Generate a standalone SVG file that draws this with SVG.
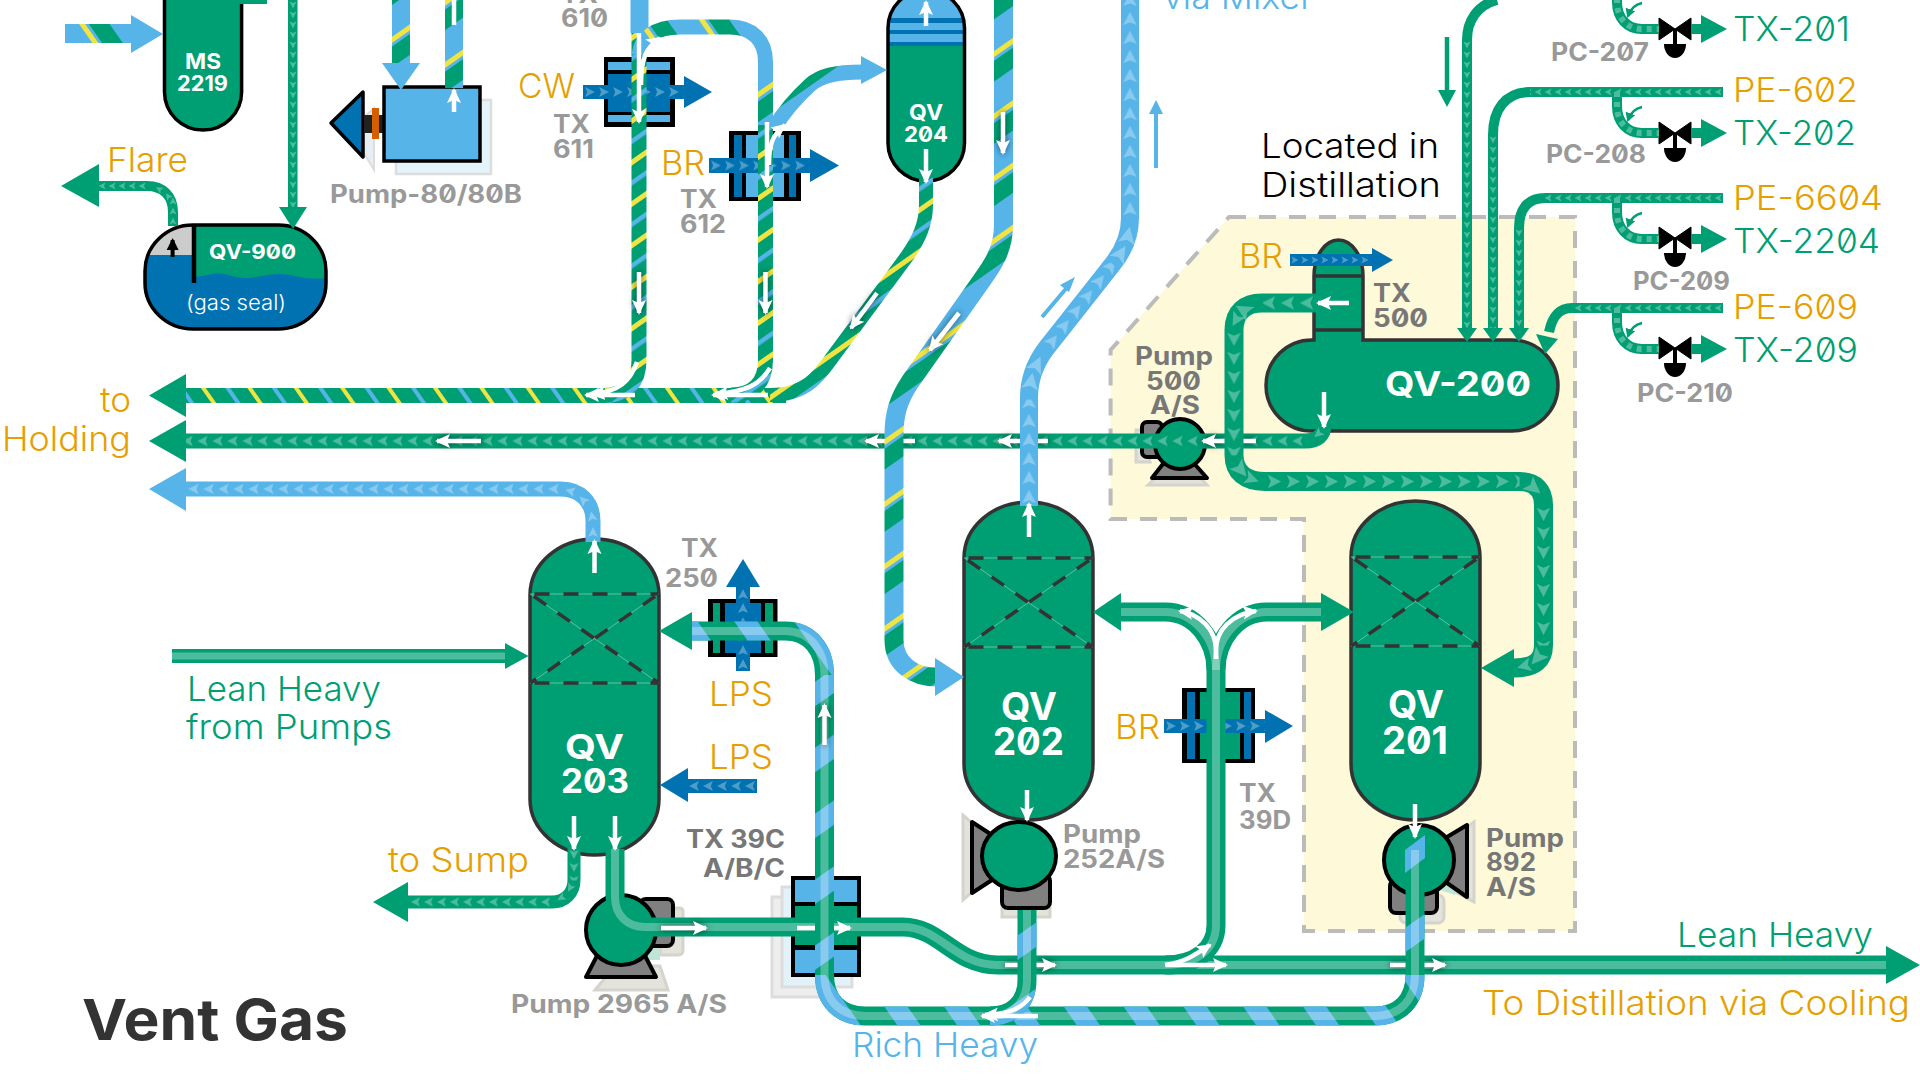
<svg xmlns="http://www.w3.org/2000/svg" width="1920" height="1080" viewBox="0 0 1920 1080">
<style>
text{font-family:Inter,"Liberation Sans",sans-serif;font-feature-settings:"zero";}
.o,.t,.s,.k{font-size:34px;font-weight:300}
.o{fill:#E69F00}.t{fill:#009E73}.s{fill:#56B4E9}.k{fill:#000}
.y{font-size:25px;font-weight:700;fill:#999}
.yd{font-size:25px;font-weight:700;fill:#777}
.w{font-weight:700;fill:#fff}
.fg{fill:#009E73}.fs{fill:#56B4E9}.fb{fill:#0072B2}
.p{fill:none}
.g{stroke:#009E73}.b{stroke:#56B4E9}.d{stroke:#0072B2}
.l{fill:none;stroke:#fff;stroke-opacity:.3}
.v{stroke:#333;stroke-width:3.5;fill:#009E73}
.wa{fill:none;stroke:#fff;stroke-width:4.5;marker-end:url(#wh)}
.sh{filter:drop-shadow(0 0 3px rgba(0,0,0,.55))}
.pd{stroke:#000;stroke-width:4;stroke-linejoin:round;fill:#808080}
.ps{fill:#e3e3dc;stroke:#d4d4cc;stroke-width:3}
.c{fill:url(#chev)}
</style>
<defs>
<pattern id="chev" patternUnits="userSpaceOnUse" width="20" height="20"><path d="M3 3 L17 10 L3 17 L6 10Z" fill="#fff" fill-opacity=".3"/></pattern>
<pattern id="gV" patternUnits="userSpaceOnUse" width="34" height="34" patternTransform="rotate(55)"><rect width="34" height="34" fill="#009E73"/><rect x="0" width="4.500" height="34" fill="#56B4E9"/><rect x="17" width="5" height="34" fill="#F0E442"/></pattern>
<pattern id="gH" patternUnits="userSpaceOnUse" width="38" height="38" patternTransform="rotate(-35)"><rect width="38" height="38" fill="#009E73"/><rect x="0" width="4" height="38" fill="#56B4E9"/><rect x="18" width="4" height="38" fill="#F0E442"/></pattern>
<pattern id="sV" patternUnits="userSpaceOnUse" width="51" height="51" patternTransform="rotate(55)"><rect width="51" height="51" fill="#56B4E9"/><rect x="0" width="5" height="51" fill="#F0E442"/><rect x="8" width="17" height="51" fill="#009E73"/></pattern>
<pattern id="sH" patternUnits="userSpaceOnUse" width="51" height="51" patternTransform="rotate(-35)"><rect width="51" height="51" fill="#56B4E9"/><rect x="0" width="5" height="51" fill="#F0E442"/><rect x="8" width="17" height="51" fill="#009E73"/></pattern>
<pattern id="rV" patternUnits="userSpaceOnUse" width="54" height="54" patternTransform="rotate(55)"><rect width="20" height="54" fill="#56B4E9"/></pattern>
<pattern id="rH" patternUnits="userSpaceOnUse" width="49" height="49" patternTransform="rotate(-35)"><rect width="19" height="49" fill="#56B4E9"/></pattern>
<marker id="wh" markerUnits="userSpaceOnUse" markerWidth="18" markerHeight="18" refX="13" refY="9" orient="auto"><path d="M0 2 L15 9 L0 16 L3 9Z" fill="#fff"/></marker>
<marker id="kh" markerUnits="userSpaceOnUse" markerWidth="16" markerHeight="16" refX="10" refY="8" orient="auto"><path d="M0 2 L12 8 L0 14Z" fill="#000"/></marker>
<marker id="gh" markerUnits="userSpaceOnUse" markerWidth="12" markerHeight="12" refX="7" refY="6" orient="auto"><path d="M0 1 L9 6 L0 11Z" fill="#009E73"/></marker>
<path id="tri" d="M7 0 L-7 -7 L-4 0 L-7 7Z" fill="#fff" fill-opacity=".3"/>
<g id="pack">
<path d="M-64 0H64M-64 89H64M-64 0L64 89M64 0L-64 89" stroke="#5cc3a5" stroke-width="1" fill="none"/>
<path d="M-64 0H64M-64 89H64M-64 0L64 89M64 0L-64 89" stroke="#333" stroke-width="3.500" stroke-dasharray="15 14" stroke-dashoffset="-4" fill="none"/>
</g>
<g id="valve">
<path d="M-16 -11 L16 11 V-11 L-16 11Z" fill="#000" stroke="#000" stroke-width="1" stroke-linejoin="round"/>
<path d="M0 0V16" stroke="#000" stroke-width="4"/>
<path d="M-11 15H11A11 14 0 0 1 -11 15Z" fill="#000"/>
</g>
<g id="pcbr">
<path class="p g" stroke-width="10" d="M1617 0V14C1617 30 1627 41 1642 41H1659"/>
<path class="l" stroke-width="6" stroke-dasharray="5 5" d="M1617 0V14C1617 30 1627 41 1642 41H1659"/>
<path class="p g" stroke-width="10" d="M1691 41H1703"/>
<polygon class="fg" points="1701,27 1701,55 1727,41"/>
<path fill="none" stroke="#009E73" stroke-width="2.500" marker-end="url(#gh)" d="M1642 15Q1632 17 1628 28"/>
</g>
</defs>

<rect width="1920" height="1080" fill="#fff"/>

<g id="region-distillation">
<path d="M1229 217H1575V931H1304V519H1110.600V350Z" fill="#FDF9D9" stroke="#bbb" stroke-width="4" stroke-dasharray="17 13"/>
</g>

<g id="ms2219">
<path d="M164.500 -10V92A38.500 38 0 0 0 241.600 92V-10Z" fill="#009E73" stroke="#000" stroke-width="3.500"/>
<text class="w" font-size="21" x="185" y="69" textLength="36" lengthAdjust="spacingAndGlyphs">MS</text>
<text class="w" font-size="21" x="177" y="91" textLength="51" lengthAdjust="spacingAndGlyphs">2219</text>
</g>

<g id="qv900">
<clipPath id="c900"><rect x="145" y="225" width="181" height="104" rx="48" ry="46"/></clipPath>
<g clip-path="url(#c900)">
<rect x="145" y="225" width="181" height="104" fill="#0072B2"/>
<rect x="145" y="225" width="49" height="30" fill="#ccc"/>
<path d="M194 225H326V278Q310 280 295 276T262 276T232 276T212 274T194 277Z" fill="#009E73"/>
</g>
<rect x="145" y="225" width="181" height="104" rx="48" ry="46" fill="none" stroke="#000" stroke-width="3.500"/>
<path d="M194 225V283" stroke="#000" stroke-width="4.500"/>
<path d="M172.600 257V240" stroke="#000" stroke-width="4" marker-end="url(#kh)"/>
<text class="w" font-size="20" x="209" y="259" textLength="87" lengthAdjust="spacingAndGlyphs">QV-900</text>
<text x="186" y="310" font-size="21" font-weight="300" fill="#fff" textLength="100" lengthAdjust="spacingAndGlyphs">(gas seal)</text>
</g>

<g id="pump-80-80b">
<rect x="396" y="100" width="95" height="74" fill="#e5f3fb" stroke="#ddd" stroke-width="2.500"/>
<path d="M374 108L350 130L374 170Z" fill="#e5eef3" stroke="#ddd" stroke-width="2"/>
<path d="M363 92L331 123L363 157Z" fill="#0072B2" stroke="#000" stroke-width="3.500" stroke-linejoin="round"/>
<rect x="364" y="115" width="20" height="18" fill="#222"/>
<rect x="372" y="108" width="7" height="31" fill="#D55E00"/>
<rect x="384" y="87" width="96" height="74" fill="#56B4E9" stroke="#000" stroke-width="3.500"/>
<text class="y" x="330" y="203" textLength="192" lengthAdjust="spacingAndGlyphs">Pump-80/80B</text>
</g>

<g id="tx610">
<rect x="604" y="57" width="71" height="70" fill="#000"/>
<rect x="608" y="62" width="62" height="8" fill="#56B4E9"/>
<rect x="608" y="74" width="62" height="38" fill="#0072B2"/>
<rect x="608" y="115" width="62" height="7" fill="#56B4E9"/>
<text class="y" x="561" y="3" textLength="37" lengthAdjust="spacingAndGlyphs">TX</text>
<text class="y" x="561" y="27" textLength="47" lengthAdjust="spacingAndGlyphs">610</text>
<text class="y" x="553" y="133" textLength="37" lengthAdjust="spacingAndGlyphs">TX</text>
<text class="y" x="553" y="158" textLength="41" lengthAdjust="spacingAndGlyphs">611</text>
<text class="o" x="518" y="98" textLength="57" lengthAdjust="spacingAndGlyphs">CW</text>
</g>

<g id="tx612">
<rect x="729" y="131" width="72" height="70" fill="#000"/>
<rect x="734" y="135" width="8" height="62" fill="#0072B2"/>
<rect x="746" y="135" width="38" height="62" fill="#56B4E9"/>
<rect x="789" y="135" width="7" height="62" fill="#0072B2"/>
<text class="o" x="661" y="175" textLength="44" lengthAdjust="spacingAndGlyphs">BR</text>
<text class="y" x="680" y="208" textLength="37" lengthAdjust="spacingAndGlyphs">TX</text>
<text class="y" x="680" y="233" textLength="46" lengthAdjust="spacingAndGlyphs">612</text>
</g>

<g id="qv204">
<clipPath id="c204"><path d="M888 28A38.200 38 0 0 1 964.500 28V143A38.200 38 0 0 1 888 143Z"/></clipPath>
<path d="M888 28A38.200 38 0 0 1 964.500 28V143A38.200 38 0 0 1 888 143Z" fill="#009E73"/>
<g clip-path="url(#c204)">
<rect x="880" y="-12" width="90" height="57" fill="#56B4E9"/>
<rect x="880" y="18" width="90" height="5" fill="#0072B2"/>
<rect x="880" y="30" width="90" height="4" fill="#0072B2"/>
<rect x="880" y="42" width="90" height="4" fill="#0072B2"/>
</g>
<path d="M888 28A38.200 38 0 0 1 964.500 28V143A38.200 38 0 0 1 888 143Z" fill="none" stroke="#000" stroke-width="3.500"/>
<text class="w" font-size="22" x="909" y="120" textLength="34" lengthAdjust="spacingAndGlyphs">QV</text>
<text class="w" font-size="22" x="904" y="142" textLength="44" lengthAdjust="spacingAndGlyphs">204</text>
</g>

<g id="qv200">
<path class="v" d="M1314 276A24.500 36 0 0 1 1363 276V340H1512A46 45.500 0 0 1 1512 431H1312A46 45.500 0 0 1 1312 340H1314Z"/>
<path d="M1314 276H1363M1314 330H1363" stroke="#333" stroke-width="3.500"/>
<text class="w" font-size="34" x="1385" y="396" textLength="146" lengthAdjust="spacingAndGlyphs">QV-200</text>
<text class="yd" x="1373" y="302" textLength="38" lengthAdjust="spacingAndGlyphs">TX</text>
<text class="yd" x="1373" y="327" textLength="55" lengthAdjust="spacingAndGlyphs">500</text>
<text class="o" x="1239" y="268" textLength="44" lengthAdjust="spacingAndGlyphs">BR</text>
<text class="k" x="1261" y="158" textLength="178" lengthAdjust="spacingAndGlyphs">Located in</text>
<text class="k" x="1261" y="197" textLength="180" lengthAdjust="spacingAndGlyphs">Distillation</text>
</g>

<g id="pump-500">
<path d="M1148 485L1166 468H1191L1207 485Z" class="ps"/>
<path d="M1142 430H1136V462H1150Z" class="ps"/>
<rect x="1142" y="422" width="20" height="35" rx="5" class="pd"/>
<path d="M1152 478L1166 460H1191L1207 478Z" class="pd"/>
<ellipse cx="1180" cy="444" rx="25" ry="25" fill="#009E73" stroke="#000" stroke-width="4"/>
<text class="yd" x="1135" y="365" textLength="78" lengthAdjust="spacingAndGlyphs">Pump</text>
<text class="yd" x="1146" y="390" textLength="55" lengthAdjust="spacingAndGlyphs">500</text>
<text class="yd" x="1150" y="414" textLength="50" lengthAdjust="spacingAndGlyphs">A/S</text>
</g>

<g id="pc-207"><use href="#valve" transform="translate(1675 29)"/><text class="y" x="1551" y="61" textLength="98" lengthAdjust="spacingAndGlyphs">PC-207</text></g>
<g id="pc-208"><use href="#valve" transform="translate(1675 133)"/><text class="y" x="1546" y="163" textLength="100" lengthAdjust="spacingAndGlyphs">PC-208</text></g>
<g id="pc-209"><use href="#valve" transform="translate(1675 238)"/><text class="y" x="1633" y="290" textLength="97" lengthAdjust="spacingAndGlyphs">PC-209</text></g>
<g id="pc-210"><use href="#valve" transform="translate(1675 348)"/><text class="y" x="1637" y="402" textLength="96" lengthAdjust="spacingAndGlyphs">PC-210</text></g>

<g id="qv203">
<path class="v" d="M530 595A64.500 56 0 0 1 659 595V799A64.500 56 0 0 1 530 799Z"/>
<use href="#pack" transform="translate(594.500 594)"/>
<text class="w" font-size="34" x="565" y="759" textLength="59" lengthAdjust="spacingAndGlyphs">QV</text>
<text class="w" font-size="34" x="561" y="793" textLength="68" lengthAdjust="spacingAndGlyphs">203</text>
</g>

<g id="tx250">
<rect x="708" y="599" width="69.500" height="58" fill="#000"/>
<rect x="713" y="603" width="7" height="50" fill="#009E73"/>
<rect x="725" y="603" width="36" height="50" fill="#0072B2"/>
<rect x="765" y="603" width="8" height="50" fill="#009E73"/>
<text class="y" x="681" y="557" textLength="37" lengthAdjust="spacingAndGlyphs">TX</text>
<text class="y" x="665" y="587" textLength="53" lengthAdjust="spacingAndGlyphs">250</text>
<text class="o" x="709" y="706" textLength="64" lengthAdjust="spacingAndGlyphs">LPS</text>
<text class="o" x="709" y="769" textLength="64" lengthAdjust="spacingAndGlyphs">LPS</text>
</g>

<g id="tx39c">
<rect x="772" y="897" width="62" height="100" fill="#eee" stroke="#ddd" stroke-width="3"/>
<rect x="782" y="887" width="70" height="100" fill="#e3f1f8" stroke="#ddd" stroke-width="3"/>
<rect x="791" y="876" width="70" height="101" fill="#000"/>
<rect x="795" y="880" width="62" height="22" fill="#56B4E9"/>
<rect x="795" y="906" width="62" height="39" fill="#009E73"/>
<rect x="795" y="950" width="62" height="23" fill="#56B4E9"/>
<text class="yd" x="686" y="848" textLength="99" lengthAdjust="spacingAndGlyphs">TX 39C</text>
<text class="yd" x="703" y="877" textLength="82" lengthAdjust="spacingAndGlyphs">A/B/C</text>
</g>

<g id="pump-2965">
<path d="M595 990L615 966H660L668 990Z" class="ps"/>
<path d="M660 908H680Q683 908 683 912V950Q683 955 678 955H660Z" class="ps"/>
<path d="M640 960L660 940V960Z" fill="#bfe5d8"/>
<rect x="640" y="899" width="33" height="47" rx="6" class="pd"/>
<path d="M586 977L600 950H642L656 977Z" class="pd"/>
<ellipse cx="621" cy="930" rx="35" ry="35" fill="#009E73" stroke="#000" stroke-width="4"/>
<text class="y" x="511" y="1013" textLength="216" lengthAdjust="spacingAndGlyphs">Pump 2965 A/S</text>
</g>

<g id="qv202">
<path class="v" d="M964 558A64.500 56 0 0 1 1093 558V764A64.500 56 0 0 1 964 764Z"/>
<use href="#pack" transform="translate(1028.500 558)"/>
<text class="w" font-size="38" x="1001" y="720" textLength="56" lengthAdjust="spacingAndGlyphs">QV</text>
<text class="w" font-size="38" x="993" y="755" textLength="71" lengthAdjust="spacingAndGlyphs">202</text>
</g>

<g id="pump-252">
<path d="M963 815L980 830V885L963 900Z" class="ps"/>
<rect x="1002" y="890" width="48" height="27" class="ps"/>
<path d="M972 822L992 835V880L972 893Z" class="pd"/>
<rect x="1002" y="875" width="48" height="33" rx="6" class="pd"/>
<ellipse cx="1019" cy="856" rx="37" ry="34" fill="#009E73" stroke="#000" stroke-width="4"/>
<text class="y" x="1063" y="843" textLength="78" lengthAdjust="spacingAndGlyphs">Pump</text>
<text class="y" x="1063" y="868" textLength="102" lengthAdjust="spacingAndGlyphs">252A/S</text>
</g>

<g id="tx39d">
<rect x="1182" y="688" width="73" height="75" fill="#000"/>
<rect x="1187" y="692" width="8" height="67" fill="#0072B2"/>
<rect x="1200" y="692" width="40" height="67" fill="#009E73"/>
<rect x="1244" y="692" width="7" height="67" fill="#0072B2"/>
<text class="o" x="1115" y="739" textLength="45" lengthAdjust="spacingAndGlyphs">BR</text>
<text class="y" x="1239" y="802" textLength="37" lengthAdjust="spacingAndGlyphs">TX</text>
<text class="y" x="1239" y="829" textLength="52" lengthAdjust="spacingAndGlyphs">39D</text>
</g>

<g id="qv201">
<path class="v" d="M1351 557A64.500 56 0 0 1 1480 557V764A64.500 56 0 0 1 1351 764Z"/>
<use href="#pack" transform="translate(1415.500 557)"/>
<text class="w" font-size="38" x="1388" y="718" textLength="56" lengthAdjust="spacingAndGlyphs">QV</text>
<text class="w" font-size="38" x="1382" y="754" textLength="66" lengthAdjust="spacingAndGlyphs">201</text>
</g>

<g id="pump-892">
<path d="M1452 840L1474 822V902L1452 890Z" class="ps"/>
<rect x="1400" y="895" width="44" height="28" rx="6" class="ps"/>
<path d="M1440 890L1455 875V895Z" fill="#bfe5d8"/>
<rect x="1390" y="880" width="47" height="33" rx="6" class="pd"/>
<path d="M1447 837L1467 825V897L1447 883Z" class="pd"/>
<ellipse cx="1419" cy="860" rx="35" ry="35" fill="#009E73" stroke="#000" stroke-width="4"/>
<text class="yd" x="1486" y="847" textLength="78" lengthAdjust="spacingAndGlyphs">Pump</text>
<text class="yd" x="1486" y="871" textLength="50" lengthAdjust="spacingAndGlyphs">892</text>
<text class="yd" x="1486" y="896" textLength="50" lengthAdjust="spacingAndGlyphs">A/S</text>
</g>

<g id="labels">
<text class="o" x="107" y="172" textLength="81" lengthAdjust="spacingAndGlyphs">Flare</text>
<text class="o" x="100" y="412" textLength="31" lengthAdjust="spacingAndGlyphs">to</text>
<text class="o" x="2" y="451" textLength="129" lengthAdjust="spacingAndGlyphs">Holding</text>
<text class="t" x="187" y="701" textLength="194" lengthAdjust="spacingAndGlyphs">Lean Heavy</text>
<text class="t" x="186" y="739" textLength="206" lengthAdjust="spacingAndGlyphs">from Pumps</text>
<text class="o" x="388" y="872" textLength="141" lengthAdjust="spacingAndGlyphs">to Sump</text>
<text class="s" x="852" y="1057" textLength="186" lengthAdjust="spacingAndGlyphs">Rich Heavy</text>
<text class="t" x="1677" y="947" textLength="196" lengthAdjust="spacingAndGlyphs">Lean Heavy</text>
<text class="o" x="1482" y="1015" textLength="428" lengthAdjust="spacingAndGlyphs">To Distillation via Cooling</text>
<text class="s" x="1163" y="9" textLength="150" lengthAdjust="spacingAndGlyphs">via Mixer</text>
<text class="o" x="1733" y="102" textLength="125" lengthAdjust="spacingAndGlyphs">PE-602</text>
<text class="o" x="1733" y="210" textLength="150" lengthAdjust="spacingAndGlyphs">PE-6604</text>
<text class="o" x="1733" y="319" textLength="125" lengthAdjust="spacingAndGlyphs">PE-609</text>
<text class="t" x="1733" y="41" textLength="117" lengthAdjust="spacingAndGlyphs">TX-201</text>
<text class="t" x="1733" y="145" textLength="123" lengthAdjust="spacingAndGlyphs">TX-202</text>
<text class="t" x="1733" y="253" textLength="147" lengthAdjust="spacingAndGlyphs">TX-2204</text>
<text class="t" x="1733" y="362" textLength="125" lengthAdjust="spacingAndGlyphs">TX-209</text>
<text x="82" y="1040" font-size="57" font-weight="700" fill="#333" textLength="266" lengthAdjust="spacingAndGlyphs">Vent Gas</text>
</g>

<g id="connectors">
<g>
<rect class="fb" x="583" y="85" width="101" height="14"/><polygon class="fb" points="684,76 684,108 712,92"/>
<rect class="c" width="144" height="20" transform="translate(583 92) scale(.7) translate(0 -10)"/>
<rect class="fb" x="709" y="158" width="101" height="15"/><polygon class="fb" points="810,149 810,182 839,165.500"/>
<rect class="c" width="144" height="20" transform="translate(709 165.500) scale(.7) translate(0 -10)"/>
<rect class="fb" x="736" y="587" width="14" height="84"/><polygon class="fb" points="726,587 760,587 743,559"/>
<rect class="c" width="120" height="20" transform="translate(743 671) rotate(-90) scale(.7) translate(0 -10)"/>
<rect class="fb" x="688" y="779" width="69" height="14"/><polygon class="fb" points="688,768 688,802 660,785"/>
<rect class="c" width="98" height="20" transform="translate(757 786) rotate(180) scale(.7) translate(0 -10)"/>
<rect class="fb" x="1164" y="719" width="101" height="14"/><polygon class="fb" points="1265,710 1265,743 1293,726"/>
<rect class="c" width="144" height="20" transform="translate(1164 726) scale(.7) translate(0 -10)"/>
<rect class="fb" x="1290" y="254" width="82" height="12"/><polygon class="fb" points="1372,248 1372,272 1393,260"/>
<rect class="c" width="164" height="20" transform="translate(1290 260) scale(.5) translate(0 -10)"/>
</g>

<rect class="fg" x="235" y="0" width="32" height="4"/>
<rect class="fg" x="288" y="0" width="9.500" height="207"/>
<polygon class="fg" points="279,207 307,207 293,229"/>
<rect class="c" width="414" height="20" transform="translate(293 0) rotate(90) scale(.5) translate(0 -10)"/>

<path class="p g" stroke-width="10" d="M173 226V212C173 196 163 186 147 186H99"/>
<rect class="c" width="96" height="20" transform="translate(147 186) rotate(180) scale(.5) translate(0 -10)"/>
<rect class="c" width="60" height="20" transform="translate(173 226) rotate(-90) scale(.5) translate(0 -10)"/>
<use href="#tri" transform="translate(168 196) rotate(-125) scale(.5)"/><use href="#tri" transform="translate(159 189) rotate(-150) scale(.5)"/>
<polygon class="fg" points="99,164 99,207 61,186"/>

<rect x="65" y="24" width="66" height="19" fill="url(#sH)"/><polygon class="fs" points="131,15 131,53 163,34"/>
<rect x="392" y="0" width="18" height="63" fill="url(#sV)"/><polygon class="fs" points="382,63 420,63 401,90"/>
<rect x="445" y="0" width="18" height="88" fill="url(#sV)"/>
<path class="wa" d="M454 112V90"/><path d="M454 0V25" stroke="#fff" stroke-width="4.500"/>

<path class="p g" stroke-width="15" d="M1324 425C1324 435 1318 441 1305 441H186"/>
<rect class="c" width="1492" height="20" transform="translate(1305 441) rotate(180) scale(.75) translate(0 -10)"/>
<use href="#tri" transform="translate(1318 434) rotate(140) scale(.7)"/>
<polygon class="fg" points="186,420 186,462 149,441"/>
<path class="wa sh" d="M481 441H437"/><path class="wa sh" d="M915 441H866"/><path class="wa sh" d="M1048 441H999"/><path class="wa sh" d="M1256 441H1203"/>

<path class="p b" stroke-width="15" d="M593 542V521C593 502 580 489 561 489H186"/>
<rect class="c" width="500" height="20" transform="translate(561 489) rotate(180) scale(.75) translate(0 -10)"/>
<use href="#tri" transform="translate(593 532) rotate(-90) scale(.7)"/><use href="#tri" transform="translate(592 516) rotate(-100) scale(.7)"/><use href="#tri" transform="translate(583 500) rotate(-135) scale(.7)"/><use href="#tri" transform="translate(570 491) rotate(-165) scale(.7)"/>
<polygon class="fs" points="186,468 186,511 149,489"/>

<rect x="186" y="388" width="600" height="15" fill="url(#gH)"/>
<polygon class="fg" points="186,374 186,417 149,395.500"/>
<path class="p" stroke="url(#gV)" stroke-width="15" d="M639 33V360C639 382 628 395 605 395"/>
<path class="p" stroke="url(#gV)" stroke-width="15" d="M765.500 125V360C765.500 382 754 395 731 395"/>
<path class="p" stroke="url(#gV)" stroke-width="14" d="M926 178V205C926 225 918 240 908 255L834 355C818 378 805 395 770 395"/>
<rect x="630.500" y="0" width="18" height="33" fill="#56B4E9"/>
<path class="p" stroke="url(#sH)" stroke-width="15" d="M639 55C641 38 655 27 680 27H730C752 27 765.500 40 765.500 62"/>
<path class="p" stroke="url(#sV)" stroke-width="15" d="M765.500 62V125"/>
<path class="p" stroke="url(#sV)" stroke-width="15" d="M774 128C785 110 798 96 810 85C820 76 835 72 862 72"/>
<polygon class="fs" points="861,56 861,84 887,70"/>
<path class="wa" d="M639 33V122"/><path class="wa" d="M641 85C641 60 645 48 660 38"/>
<path class="wa" d="M767 122V187"/><path class="wa" d="M769 165C769 145 772 135 785 125"/>
<path class="wa sh" d="M639 272V313"/><path class="wa sh" d="M765.500 272V313"/>
<path class="wa sh" d="M877 293L851 328"/>
<path class="wa" d="M635 395H586"/><path class="wa" d="M637 362C630 382 618 392 592 394"/>
<path class="wa" d="M768 395H713"/><path class="wa" d="M770 368C760 385 745 392 715 394"/>

<path class="p" stroke="url(#sV)" stroke-width="19" d="M1003.500 0V225C1003.500 250 992 266 982 280L910 382C898 400 894 415 894 435V640C894 665 915 677 936 677"/>
<polygon class="fs" points="935,658 935,696 964,677"/>
<path class="wa sh" d="M1003 112V153"/>
<path class="wa sh" d="M959 313L930 350"/>

<path class="p b" stroke-width="18" d="M1029 506V398Q1029 372 1045 350L1112 265Q1130 243 1130 218V0"/>
<rect class="c" width="112" height="20" transform="translate(1029 506) rotate(-90) scale(.95) translate(0 -10)"/>
<rect class="c" width="112" height="20" transform="translate(1047 348) rotate(-52) scale(.95) translate(0 -10)"/>
<rect class="c" width="230" height="20" transform="translate(1130 218) rotate(-90) scale(.95) translate(0 -10)"/>
<use href="#tri" transform="translate(1031 381) rotate(-80) scale(1.2)"/><use href="#tri" transform="translate(1037 364) rotate(-65) scale(1.2)"/>
<use href="#tri" transform="translate(1121 253) rotate(-58) scale(1.2)"/><use href="#tri" transform="translate(1128 235) rotate(-78) scale(1.2)"/>
<path d="M1042 317L1070 284" stroke="#56B4E9" stroke-width="4"/><polygon class="fs" points="1075,277 1069,292 1060,285"/>
<path d="M1156 168V110" stroke="#56B4E9" stroke-width="4"/><polygon class="fs" points="1149,114 1163,114 1156,100"/>
<path d="M1447 37V90" stroke="#009E73" stroke-width="4.500"/><polygon class="fg" points="1438,90 1456,90 1447,107"/>

<path class="p g" stroke-width="13" d="M574 848V880C574 893 565 902 552 902H408"/>
<rect class="c" width="220" height="20" transform="translate(552 902) rotate(180) scale(.65) translate(0 -10)"/>
<rect class="c" width="50" height="20" transform="translate(574 848) rotate(90) scale(.65) translate(0 -10)"/>
<use href="#tri" transform="translate(570 888) rotate(120) scale(.6)"/><use href="#tri" transform="translate(561 898) rotate(150) scale(.6)"/>
<polygon class="fg" points="408,882 408,922 373,902"/>

<rect class="fg" x="172" y="649" width="333" height="14"/><rect x="172" y="652.500" width="333" height="7" fill="#fff" fill-opacity=".3"/>
<polygon class="fg" points="505,643 505,669 528.500,656"/>

<path class="p g" stroke-width="19" d="M615 849V897C615 916 628 927 645 927H903C940 927 955 965 997 965H1886"/>
<path class="l" stroke-width="8" d="M615 849V897C615 916 628 927 645 927H903C940 927 955 965 997 965H1886"/>
<polygon class="fg" points="1886,946 1886,984 1920,965"/>
<path class="wa sh" d="M661 928H706"/><path class="wa" d="M797 928H850"/>

<path class="p g" stroke-width="19" d="M1216 925V670C1216 640 1195 612 1165 612H1121"/>
<path class="p g" stroke-width="19" d="M1216 670C1216 640 1237 612 1267 612H1321"/>
<path class="p g" stroke-width="19" d="M1216 925C1216 950 1195 965 1165 965"/>
<path class="l" stroke-width="8" d="M1216 925V670C1216 640 1195 612 1165 612H1121"/>
<path class="l" stroke-width="8" d="M1216 670C1216 640 1237 612 1267 612H1321"/>
<path class="l" stroke-width="8" d="M1216 925C1216 950 1195 965 1165 965"/>
<polygon class="fg" points="1121,593 1121,631 1093,612"/><polygon class="fg" points="1321,593 1321,631 1354,612"/>
<path class="wa" d="M1216 659V650C1216 630 1200 614 1180 611"/><path class="wa" d="M1216 659V650C1216 630 1232 614 1256 611"/>
<path class="wa" d="M1166 965H1226"/><path class="wa" d="M1165 965C1185 962 1195 955 1210 945"/>
<path class="wa sh" d="M1005 965H1055"/><path class="wa sh" d="M1390 965H1445"/>

<path class="p g" stroke-width="19" d="M692 631H785C810 631 824.500 650 824.500 675V975C824.500 1000 840 1016 865 1016H1375C1400 1016 1415 1000 1415 975V845"/>
<path class="p" stroke="url(#rH)" stroke-width="19" d="M692 631H785C810 631 824.500 650 824.500 675"/>
<path class="p" stroke="url(#rV)" stroke-width="19" d="M824.500 675V975"/>
<path class="p" stroke="url(#rH)" stroke-width="19" d="M824.500 975C824.500 1000 840 1016 865 1016H1375C1400 1016 1415 1000 1415 975"/>
<path class="p" stroke="url(#rV)" stroke-width="19" d="M1415 975V895"/>
<polygon class="fs" points="1405,850 1425,835 1425,858 1405,873"/>
<path class="l" stroke-width="8" d="M692 631H785C810 631 824.500 650 824.500 675V975C824.500 1000 840 1016 865 1016H1375C1400 1016 1415 1000 1415 975V850"/>
<polygon class="fg" points="692,612 692,650 659,631"/>
<path class="p g" stroke-width="19" d="M1027 910V980C1027 1003 1012 1016 990 1016"/>
<path class="p" stroke="url(#rV)" stroke-width="19" d="M1027 910V980C1027 1003 1012 1016 990 1016"/>
<path class="l" stroke-width="8" d="M1027 910V980C1027 1003 1012 1016 990 1016"/>
<path class="wa" d="M1038 1016H982"/><path class="wa" d="M1030 997C1022 1008 1010 1014 985 1015"/>
<path class="wa sh" d="M824.500 745V705"/>

<path class="p g" stroke-width="19" d="M1318 303H1262C1245 303 1234 312 1234 330V455C1234 472 1245 481.500 1265 481.500H1520C1535 481.500 1543.500 490 1543.500 505V645C1543.500 660 1535 668 1514 668"/>
<rect class="c" width="56" height="20" transform="translate(1316 303) rotate(180) scale(.95) translate(0 -10)"/>
<rect class="c" width="132" height="20" transform="translate(1234 330) rotate(90) scale(.95) translate(0 -10)"/>
<rect class="c" width="268" height="20" transform="translate(1265 481.500) scale(.95) translate(0 -10)"/>
<rect class="c" width="148" height="20" transform="translate(1543.500 505) rotate(90) scale(.95) translate(0 -10)"/>
<use href="#tri" transform="translate(1243 310) rotate(-150) scale(1.2)"/><use href="#tri" transform="translate(1236 320) rotate(120) scale(1)"/>
<use href="#tri" transform="translate(1241 470) rotate(50) scale(1.2)"/><use href="#tri" transform="translate(1252 479) rotate(20) scale(1)"/>
<use href="#tri" transform="translate(1534 488) rotate(40) scale(1.2)"/>
<use href="#tri" transform="translate(1537 658) rotate(130) scale(1.2)"/><use href="#tri" transform="translate(1524 666) rotate(165) scale(1)"/>
<polygon class="fg" points="1514,649 1514,687 1481,668"/>
<path class="wa" d="M1349 303H1318"/>

<path class="p g" stroke-width="10" d="M1497 0C1478 5 1467 20 1467 40V328"/>
<rect class="c" width="576" height="20" transform="translate(1467 40) rotate(90) scale(.5) translate(0 -10)"/>
<polygon class="fg" points="1457,328 1477,328 1467,342"/>
<path class="p g" stroke-width="10" d="M1723 92H1530C1505 92 1493 110 1493 135V328"/>
<rect class="c" width="386" height="20" transform="translate(1723 92) rotate(180) scale(.5) translate(0 -10)"/>
<rect class="c" width="386" height="20" transform="translate(1493 135) rotate(90) scale(.5) translate(0 -10)"/>
<polygon class="fg" points="1483,328 1503,328 1493,342"/>
<path class="p g" stroke-width="10" d="M1723 198H1545C1527 198 1519 210 1519 228V328"/>
<rect class="c" width="356" height="20" transform="translate(1723 198) rotate(180) scale(.5) translate(0 -10)"/>
<rect class="c" width="200" height="20" transform="translate(1519 228) rotate(90) scale(.5) translate(0 -10)"/>
<polygon class="fg" points="1509,328 1529,328 1519,342"/>
<path class="p g" stroke-width="10" d="M1723 308H1572C1558 308 1552 318 1549 332"/>
<rect class="c" width="302" height="20" transform="translate(1723 308) rotate(180) scale(.5) translate(0 -10)"/>
<polygon class="fg" points="1536,334 1558,339 1545,354"/>
<use href="#pcbr" transform="translate(0 -12)"/>
<use href="#pcbr" transform="translate(0 92)"/>
<use href="#pcbr" transform="translate(0 198)"/>
<use href="#pcbr" transform="translate(0 308)"/>

<path class="wa" d="M926 26V2"/><path class="wa" d="M926 149V182"/>
<path class="wa" d="M594.500 573V541"/><path class="wa" d="M574 816V849"/><path class="wa" d="M615 816V849"/>
<path class="wa" d="M1029 537V504"/><path class="wa" d="M1027 790V820"/>
<path class="wa" d="M1415 804V837"/><path class="wa" d="M1324 392V427"/>
</g>
</svg>
